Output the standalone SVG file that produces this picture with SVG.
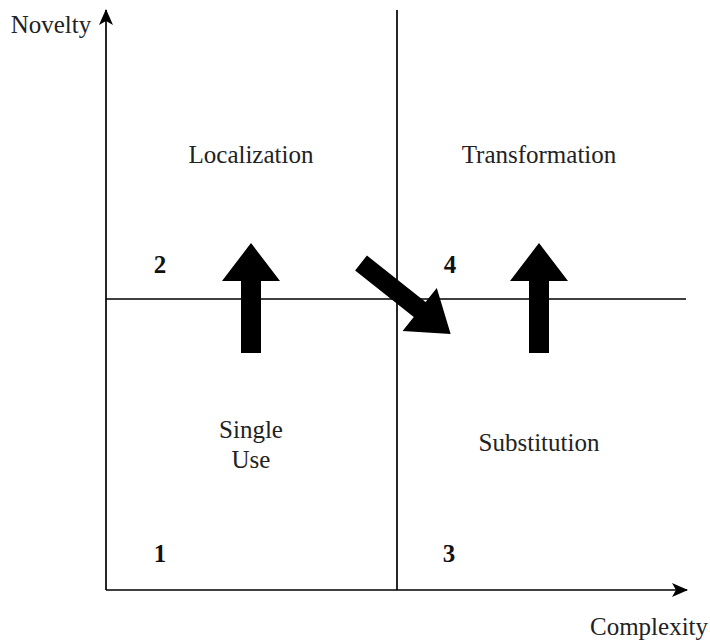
<svg xmlns="http://www.w3.org/2000/svg" width="710" height="641" viewBox="0 0 710 641">
  <style>
    .ln { stroke: #000; stroke-width: 1.7; fill: none; }
    .lbl { font-family: "Liberation Serif", "Times New Roman", serif; font-size: 25px; fill: #222; text-anchor: middle; }
    .num { font-family: "Liberation Serif", "Times New Roman", serif; font-size: 25px; font-weight: bold; fill: #111; text-anchor: middle; }
    .blk { fill: #000; }
  </style>
  <defs>
    <marker id="tri" viewBox="0 0 16 14" refX="15" refY="7" markerWidth="16" markerHeight="14" markerUnits="userSpaceOnUse" orient="auto">
      <path d="M0,0 L16,7 L0,14 L4,7 Z" fill="#000"/>
    </marker>
    <!-- block arrow pointing along +x, tail at origin -->
    <polygon id="block" points="0,-10 72,-10 72,-29 110,0 72,29 72,10 0,10"/>
  </defs>

  <g id="connectors">
    <line class="ln" x1="106" y1="590" x2="106" y2="10" marker-end="url(#tri)"/>
    <line class="ln" x1="106" y1="590" x2="687" y2="590" marker-end="url(#tri)"/>
    <line class="ln" x1="397" y1="10" x2="397" y2="590"/>
    <line class="ln" x1="106" y1="299" x2="686" y2="299"/>
  </g>

  <g id="axis-labels">
    <text class="lbl" x="51" y="33">Novelty</text>
    <text class="lbl" x="649" y="635">Complexity</text>
  </g>

  <g id="q-localization">
    <text class="lbl" x="251" y="163">Localization</text>
    <text class="num" x="160" y="273">2</text>
  </g>
  <g id="q-transformation">
    <text class="lbl" x="539" y="163">Transformation</text>
    <text class="num" x="450" y="273">4</text>
  </g>
  <g id="q-single-use">
    <text class="lbl" x="251" y="438">Single</text>
    <text class="lbl" x="251" y="468">Use</text>
    <text class="num" x="160" y="562">1</text>
  </g>
  <g id="q-substitution">
    <text class="lbl" x="539" y="451">Substitution</text>
    <text class="num" x="449" y="562">3</text>
  </g>

  <g id="arrows">
    <use href="#block" class="blk" transform="translate(251,353) rotate(-90)"/>
    <use href="#block" class="blk" transform="translate(539,353) rotate(-90)"/>
    <use href="#block" class="blk" transform="translate(361,263) rotate(38.4) scale(1.04,0.95)"/>
  </g>
</svg>
